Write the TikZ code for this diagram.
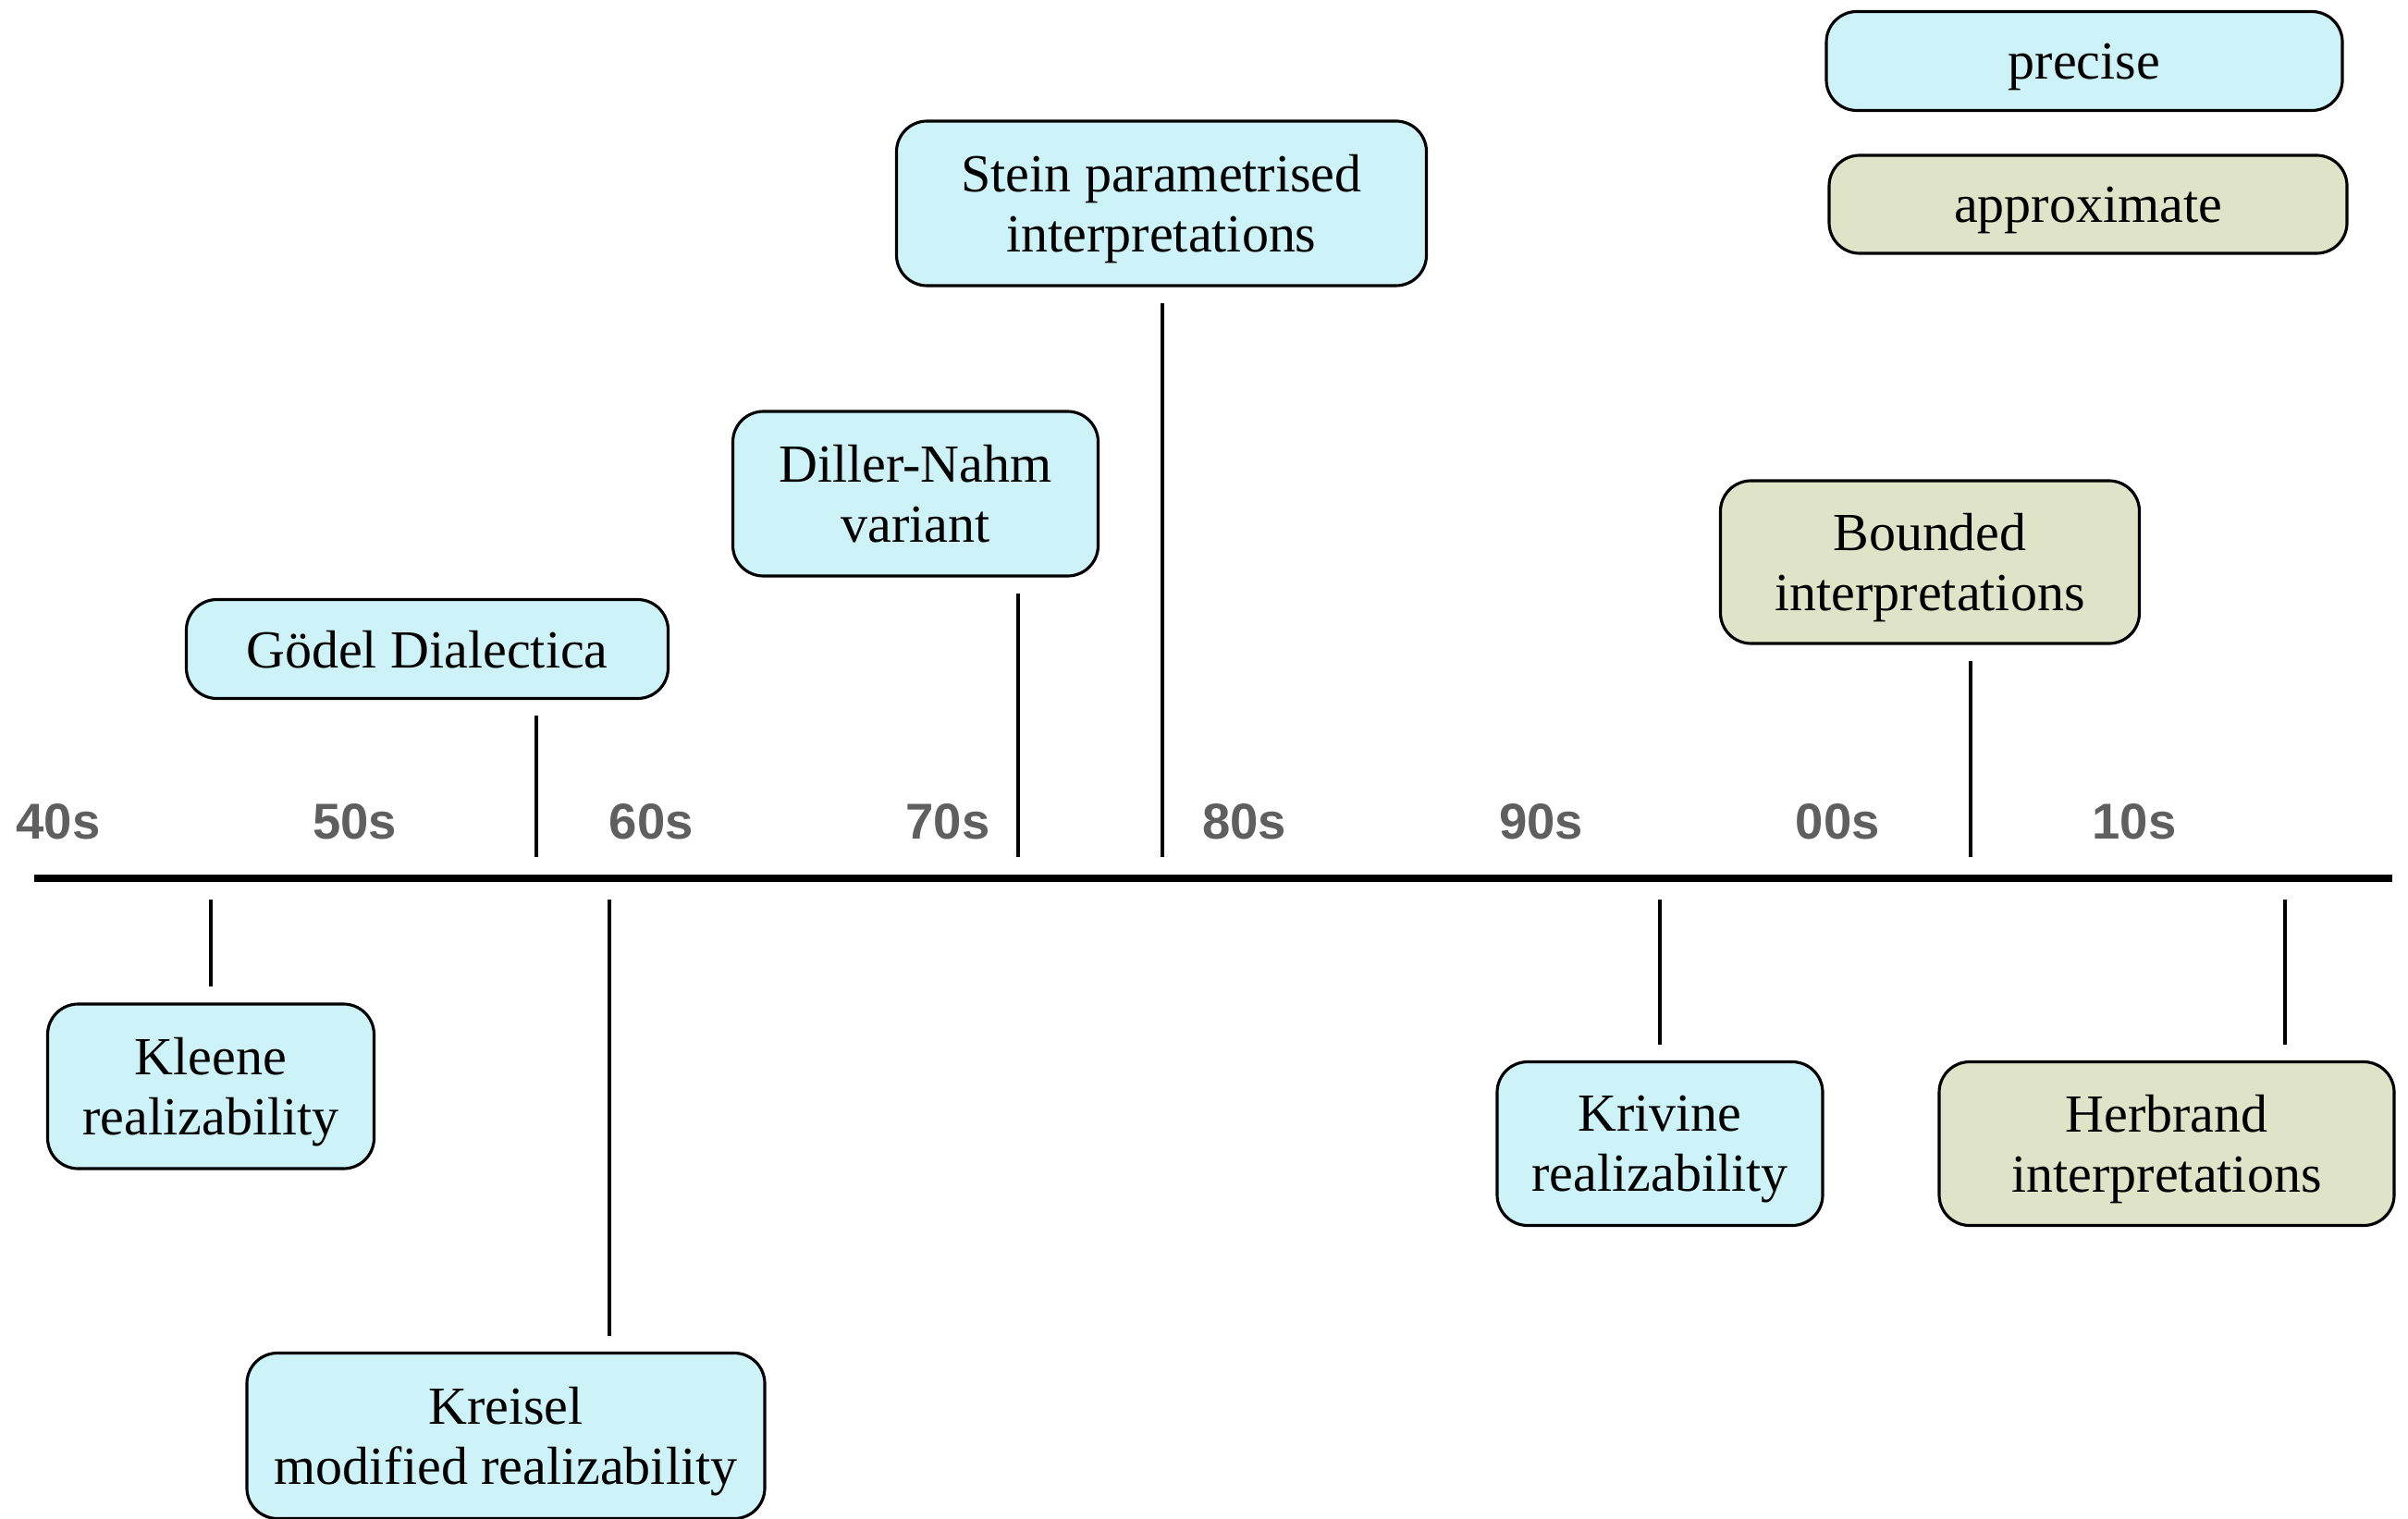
\documentclass[tikz,border=0pt]{standalone}
\usepackage{fontspec}
\usepackage{xcolor}
\usepackage{tikz}
\setmainfont{Liberation Serif}
\newfontfamily\decadefont{Liberation Sans}
\definecolor{precisecol}{HTML}{CDF3F9}
\definecolor{approxcol}{HTML}{DFE4C9}
\definecolor{decadecol}{HTML}{5F5F5F}

\begin{document}
\begin{tikzpicture}[
	box/.style={draw, line width=0.9pt, rounded corners=0.33cm, align=center, inner sep=0pt, text depth=0pt, font=\fontsize{16.5}{18.5}\selectfont},
	precise/.style={box, fill=precisecol},
	approx/.style={box, fill=approxcol},
	decade/.style={anchor=base, text=decadecol, font=\decadefont\bfseries\fontsize{15.5}{18}\selectfont},
	timeline/.style={line width=2.3pt},
	tick/.style={line width=1.4pt, shorten <=0.17cm, shorten >=0.23cm}
	]
	\useasboundingbox (0,0) rectangle (26.04,-16.43);

	% Timeline and decades
	\coordinate (axisL) at (0.37,-9.5);
	\coordinate (axisR) at (25.87,-9.5);
	\draw [timeline] (axisL) -- (axisR);
	\foreach \d [count=\i from 0] in {40s,50s,60s,70s,80s,90s,00s,10s}
		\node (dec\d) [decade] at ({0.63+3.207*\i},-9.07) {\d};

	% Define nodes
	\node (precise) [precise, minimum width=5.58cm, minimum height=1.07cm] at (22.54,-0.66) {precise};
	\node (approximate) [approx, minimum width=5.60cm, minimum height=1.06cm] at (22.58,-2.21) {approximate};
	\node (stein) [precise, minimum width=5.73cm, minimum height=1.78cm] at (12.56,-2.20) {Stein parametrised\\interpretations};
	\node (diller) [precise, minimum width=3.95cm, minimum height=1.78cm] at (9.90,-5.34) {Diller-Nahm\\variant};
	\node (goedel) [precise, minimum width=5.21cm, minimum height=1.07cm] at (4.62,-7.02) {Gödel Dialectica};
	\node (bounded) [approx, minimum width=4.53cm, minimum height=1.76cm] at (20.87,-6.08) {Bounded\\interpretations};
	\node (kleene) [precise, minimum width=3.53cm, minimum height=1.78cm] at (2.28,-11.75) {Kleene\\realizability};
	\node (kreisel) [precise, minimum width=5.60cm, minimum height=1.79cm] at (5.47,-15.53) {Kreisel\\modified realizability};
	\node (krivine) [precise, minimum width=3.52cm, minimum height=1.77cm] at (17.95,-12.37) {Krivine\\realizability};
	\node (herbrand) [approx, minimum width=4.92cm, minimum height=1.77cm] at (23.43,-12.37) {Herbrand\\interpretations};

	% Points on the timeline
	\coordinate (tGoedel) at (5.80,-9.5);
	\coordinate (tDiller) at (11.01,-9.5);
	\coordinate (tStein) at (12.57,-9.5);
	\coordinate (tBounded) at (21.31,-9.5);
	\coordinate (tKleene) at (2.28,-9.5);
	\coordinate (tKreisel) at (6.59,-9.5);
	\coordinate (tKrivine) at (17.95,-9.5);
	\coordinate (tHerbrand) at (24.71,-9.5);

	% Draw ticks
	\draw [tick] (goedel.south -| tGoedel) -- (tGoedel);
	\draw [tick] (diller.south -| tDiller) -- (tDiller);
	\draw [tick] (stein.south -| tStein) -- (tStein);
	\draw [tick] (bounded.south -| tBounded) -- (tBounded);
	\draw [tick] (kleene.north -| tKleene) -- (tKleene);
	\draw [tick] (kreisel.north -| tKreisel) -- (tKreisel);
	\draw [tick] (krivine.north -| tKrivine) -- (tKrivine);
	\draw [tick] (herbrand.north -| tHerbrand) -- (tHerbrand);

\end{tikzpicture}
\end{document}
